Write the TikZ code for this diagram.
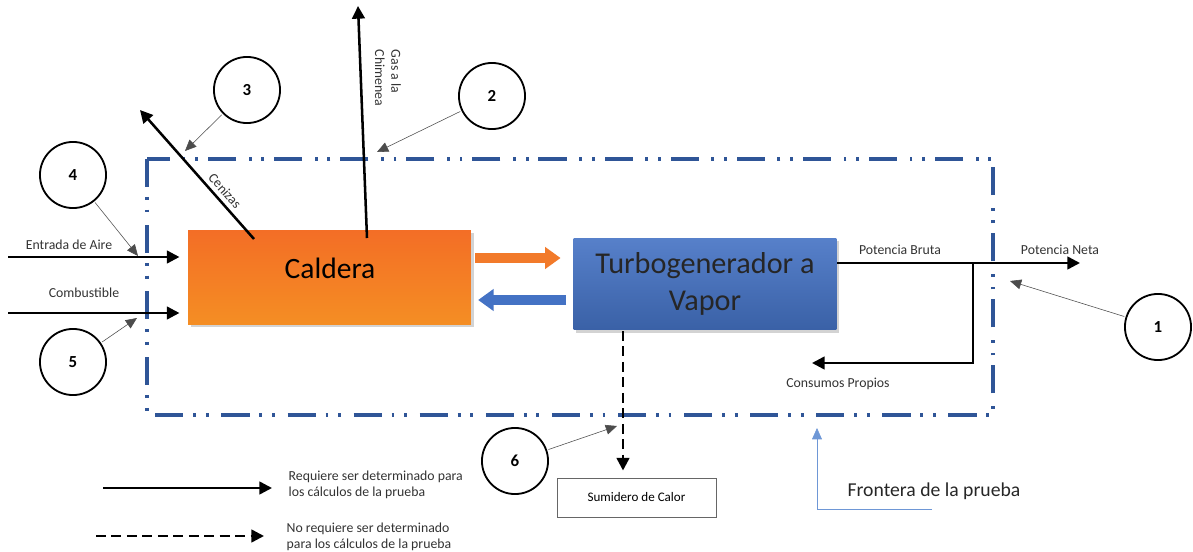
\documentclass[tikz,border=0pt]{standalone}
\usepackage{fontspec}
\setmainfont{Carlito}
\usetikzlibrary{arrows.meta,shadows}
\definecolor{caldorange}{HTML}{F27A2A}
\definecolor{turboblue}{HTML}{4472C4}
\definecolor{frontblue}{HTML}{2F5597}
\definecolor{notearrow}{HTML}{6E97D6}
\begin{document}
\begin{tikzpicture}[
x=0.025cm, y=-0.025cm,
flow/.style={line width=1.8pt, -{Triangle[length=9pt, width=9pt]}},
dflow/.style={flow, dash pattern=on 7pt off 4pt},
pointer/.style={thin, black!70, -{Triangle[length=8pt, width=7pt]}, shorten <=1pt},
tag/.style={circle, draw, line width=1.3pt, minimum size=47pt, inner sep=0pt, font=\fontsize{12}{14}\bfseries\selectfont},
lbl/.style={font=\fontsize{9.8}{11.5}\selectfont, text=black!80, inner sep=1pt},
frontier/.style={frontblue, line width=2.2pt, dash pattern=on 20pt off 7pt on 2pt off 7pt on 2pt off 9pt},
fat/.style={line width=7pt, -{Triangle[length=11pt, width=15pt]}},
unit/.style={minimum width=#1, inner sep=0pt, drop shadow={opacity=.35, shadow xshift=2pt, shadow yshift=-2pt}}
]

%% Box
\useasboundingbox (0,0) rectangle (1193,552);

% boundary
\draw[frontier] (147,159) rectangle (993,415);

% units
\node[unit=201pt, top color=caldorange!90!red, bottom color=caldorange!85!yellow, minimum height=67pt] (caldera) at (329.5,277.5) {};
\node[font=\fontsize{21}{24}\selectfont] (caldtext) at (330,268) {Caldera};
\node[unit=187pt, top color=turboblue!90!white, bottom color=turboblue!85!black, minimum height=65pt,
      align=center, font=\fontsize{21.5}{26}\selectfont, text=black!85] (turbo) at (705,284) {Turbogenerador a\\Vapor};
\node[draw=black!60, minimum width=113pt, minimum height=28pt, font=\fontsize{9.3}{11}\selectfont] (sink) at (636.5,497.5) {Sumidero de Calor};

% free ends
\coordinate (aireIn) at (8,257);
\coordinate (combIn) at (8,313);
\coordinate (cenStart) at (254,239);
\coordinate (cenEnd) at (140,110);
\coordinate (gasStart) at (367,238);
\coordinate (gasEnd) at (358,6);
\coordinate (pbStart) at (837,263);
\coordinate (pnEnd) at (1080,263);
\coordinate (split) at (973,263);
\coordinate (cpEnd) at (812,363);
\coordinate (sinkStart) at (623,331);

% flows
\draw[flow, shorten >=6pt] (aireIn) -- (aireIn -| caldera.west);
\draw[flow, shorten >=6pt] (combIn) -- (combIn -| caldera.west);
\draw[flow] (cenStart) -- (cenEnd);
\draw[flow] (gasStart) -- (gasEnd);
\draw[flow] (pbStart) -- (pnEnd);
\draw[flow] (split) -- (split |- cpEnd) -- (cpEnd);
\draw[dflow, shorten >=5pt] (sinkStart) -- (sinkStart |- sink.north);

% heat exchange
\draw[fat, caldorange, shorten >=9pt, shorten <=3pt] (caldera.east |- 0,258) -- (turbo.west |- 0,258);
\draw[fat, turboblue, shorten >=5pt, shorten <=5pt] (turbo.west |- 0,300) -- (caldera.east |- 0,300);

% labels
\node[lbl] (aireLbl) at (69,245) {Entrada de Aire};
\node[lbl] (combLbl) at (84,293) {Combustible};
\node[lbl, rotate=-48.5] (cenLbl) at (225,191) {Cenizas};
\node[lbl, rotate=-90, align=left] (gasLbl) at (388,78) {Gas a la\\Chimenea};
\node[lbl] (pbLbl) at (900,250) {Potencia Bruta};
\node[lbl] (pnLbl) at (1060,250) {Potencia Neta};
\node[lbl] (cpLbl) at (838,384) {Consumos Propios};

% measurement points
\node[tag] (c1) at (1158,327) {1};
\node[tag] (c2) at (492,96) {2};
\node[tag] (c3) at (247,90) {3};
\node[tag] (c4) at (73,175) {4};
\node[tag] (c5) at (73,362) {5};
\node[tag] (c6) at (515,461) {6};

\coordinate (p1) at (1010,281);
\coordinate (p2) at (377,152);
\coordinate (p3) at (185,151);
\coordinate (p4) at (138,256);
\coordinate (p5) at (137,318);
\coordinate (p6) at (617,426);
\foreach \n in {1,...,6}{
\draw[pointer] (c\n) -- (p\n);
}

% test boundary note
\node[font=\fontsize{14}{17}\selectfont, text=black!85] (frontLbl) at (934,491) {Frontera de la prueba};
\coordinate (frontTip) at (817,428);
\draw[notearrow, thin, -{Triangle[length=8pt, width=7pt]}] (932,509) -- (frontTip |- 0,509) -- (frontTip);

% legend
\coordinate (legA) at (103,488);
\coordinate (legB) at (272,488);
\coordinate (legC) at (96,536);
\coordinate (legD) at (264,536);
\draw[flow] (legA) -- (legB);
\draw[dflow] (legC) -- (legD);
\node[lbl, anchor=west, align=left] (legTop) at (287,485) {Requiere ser determinado para\\los cálculos de la prueba};
\node[lbl, anchor=west, align=left] (legBot) at (285,537) {No requiere ser determinado\\para los cálculos de la prueba};

\end{tikzpicture}
\end{document}
